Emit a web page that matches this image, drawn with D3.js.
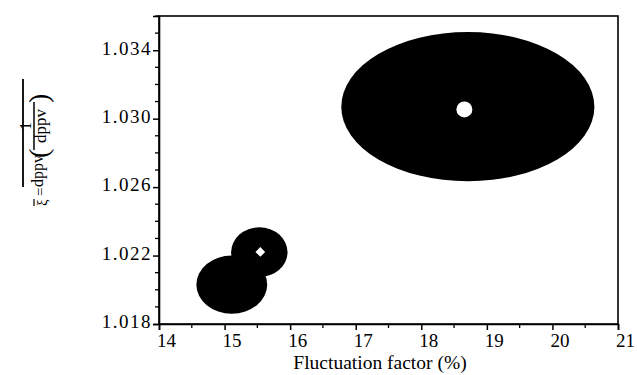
<!DOCTYPE html>
<html>
<head>
<meta charset="utf-8">
<script src="https://cdn.jsdelivr.net/npm/d3@7"></script>
<style>
  html, body { margin: 0; padding: 0; background: #fff; }
  svg { display: block; }
  text { font-family: "Liberation Serif", "Times New Roman", serif; fill: #000; }
</style>
</head>
<body>
<svg id="chart" width="637" height="375"></svg>
<script>
// Uncertainty regions: centre and half-widths along each axis
const regionCx = [15.11, 15.53, 18.71];
const regionCy = [1.0203, 1.0222, 1.0307];
const regionRx = [0.54, 0.43, 1.93];
const regionRy = [0.0017, 0.00145, 0.00436];

// Central markers
const markerX = [15.545, 18.657];
const markerY = [1.02221, 1.03054];
const markerShape = ["diamond", "circle"];

// Axis ticks
const xTicks = [14, 15, 16, 17, 18, 19, 20, 21];
const yTicks = [1.018, 1.022, 1.026, 1.030, 1.034];
const xDomain = [14, 21];
const yDomain = [1.018, 1.036];

const svg = d3.select("#chart");
const mLeft = 159, mRight = 618, mTop = 16, mBottom = 324;

const x = d3.scaleLinear().domain(xDomain).range([mLeft, mRight]);
const y = d3.scaleLinear().domain(yDomain).range([mBottom, mTop]);

// frame
svg.append("rect")
  .attr("x", mLeft).attr("y", mTop)
  .attr("width", mRight - mLeft).attr("height", mBottom - mTop)
  .attr("fill", "none").attr("stroke", "#000").attr("stroke-width", 1.6);

// filled regions
const regions = regionCx.map((cx, i) => ({cx, cy: regionCy[i], rx: regionRx[i], ry: regionRy[i]}));
svg.append("g").selectAll("ellipse").data(regions).join("ellipse")
  .attr("cx", d => x(d.cx))
  .attr("cy", d => y(d.cy))
  .attr("rx", d => x(d.cx + d.rx) - x(d.cx))
  .attr("ry", d => y(d.cy) - y(d.cy + d.ry))
  .attr("fill", "#000");

// white markers
const markers = markerX.map((mx, i) => ({mx, my: markerY[i], shape: markerShape[i]}));
svg.append("g").selectAll("path").data(markers).join("path")
  .attr("transform", d => `translate(${x(d.mx)},${y(d.my)})`)
  .attr("d", d => d.shape === "diamond"
      ? d3.symbol(d3.symbolDiamond2, 60)()
      : d3.symbol(d3.symbolCircle, 200)())
  .attr("fill", "#fff");

// x axis
const xAxis = d3.axisBottom(x).tickValues(xTicks).tickFormat(d3.format("d"))
  .tickSize(6).tickPadding(4);
const gx = svg.append("g").attr("transform", `translate(0,${mBottom})`).call(xAxis);
gx.selectAll(".tick line").attr("stroke-width", 1.5);
gx.select(".domain").attr("stroke-width", 1.6);
gx.selectAll("text").attr("font-size", 19).attr("font-family", "Liberation Serif")
  .attr("dx", 7);
// half-unit minor ticks
svg.append("g").selectAll("line")
  .data(d3.range(14.5, 21, 1)).join("line")
  .attr("x1", d => x(d)).attr("x2", d => x(d))
  .attr("y1", mBottom).attr("y2", mBottom + 4)
  .attr("stroke", "#000").attr("stroke-width", 1.3);

// y axis
const yAxis = d3.axisLeft(y).tickValues(yTicks).tickFormat(d3.format(".3f"))
  .tickSize(6).tickPadding(1);
const gy = svg.append("g").attr("transform", `translate(${mLeft},0)`).call(yAxis);
gy.selectAll(".tick line").attr("stroke-width", 1.5);
gy.select(".domain").attr("stroke-width", 1.6);
gy.selectAll("text").attr("font-size", 19).attr("font-family", "Liberation Serif")
  .attr("letter-spacing", 1.5).attr("dy", "0.2em");
// minor ticks every 0.001
const yMinor = d3.range(1.019, 1.0361, 0.001).filter(v => !yTicks.some(t => Math.abs(t - v) < 1e-6));
svg.append("g").selectAll("line").data(yMinor).join("line")
  .attr("x1", mLeft).attr("x2", mLeft - 4)
  .attr("y1", d => y(d)).attr("y2", d => y(d))
  .attr("stroke", "#000").attr("stroke-width", 1.3);

// x axis title
svg.append("text")
  .attr("x", 380).attr("y", 369)
  .attr("text-anchor", "middle").attr("font-size", 19.5)
  .text("Fluctuation factor (%)");

// y axis title: ξ = overline(dppv (1/dppv)), drawn rotated
const lab = svg.append("g").attr("transform", "translate(40,145) rotate(-90)");
lab.append("text").attr("x", -61).attr("y", 7).attr("font-size", 15).text("ξ");
lab.append("line").attr("x1", -61).attr("x2", -54).attr("y1", -6).attr("y2", -6)
  .attr("stroke", "#000").attr("stroke-width", 1.2);
lab.append("text").attr("x", -51).attr("y", 5).attr("font-size", 15).text("=");
lab.append("text").attr("x", -42).attr("y", 3).attr("font-size", 16).text("dppv");
lab.append("text").attr("x", -13).attr("y", 8).attr("font-size", 28).text("(");
lab.append("text").attr("x", 19).attr("y", -9).attr("font-size", 16)
  .attr("text-anchor", "middle").text("1");
lab.append("line").attr("x1", -5).attr("x2", 43).attr("y1", -6).attr("y2", -6)
  .attr("stroke", "#000").attr("stroke-width", 1.5);
lab.append("text").attr("x", 19).attr("y", 6).attr("font-size", 17)
  .attr("text-anchor", "middle").text("dppv");
lab.append("text").attr("x", 42).attr("y", 8).attr("font-size", 28).text(")");
lab.append("line").attr("x1", -42).attr("x2", 66).attr("y1", -17).attr("y2", -17)
  .attr("stroke", "#000").attr("stroke-width", 1.8);
</script>
</body>
</html>
